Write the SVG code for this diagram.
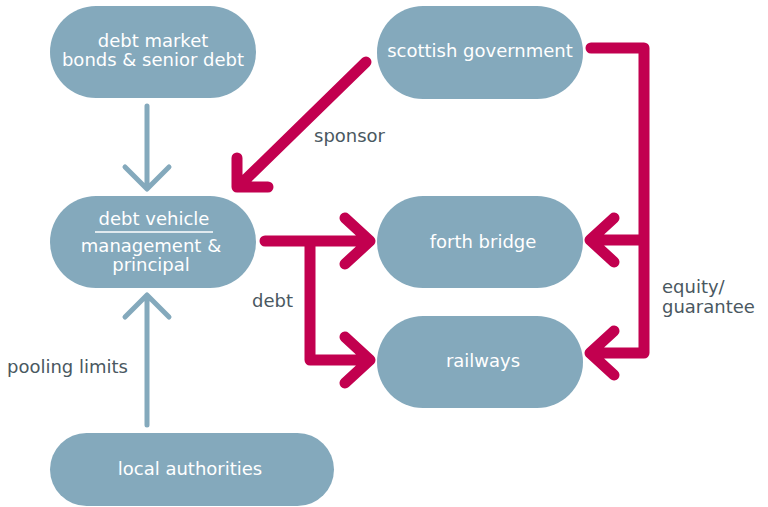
<svg xmlns="http://www.w3.org/2000/svg" width="768" height="507" viewBox="0 0 768 507">
  <style>
    .node { fill: #84a9bc; }
    .ntext { fill: #ffffff; font-family: "DejaVu Sans", "Liberation Sans", sans-serif; font-size: 18px; text-anchor: middle; }
    .label { fill: #4a5861; font-family: "DejaVu Sans", "Liberation Sans", sans-serif; font-size: 18px; }
    .blue { stroke: #84a9bc; stroke-width: 5; fill: none; stroke-linecap: round; stroke-linejoin: round; }
    .red { stroke: #c2004f; stroke-width: 11; fill: none; stroke-linecap: round; stroke-linejoin: round; }
  </style>
  <rect width="768" height="507" fill="#ffffff"/>

  <g id="connectors">
    <!-- debt market -> debt vehicle -->
    <path class="blue" d="M147 106 V188 M125 167 L147 189 L169 167"/>
    <!-- local authorities -> debt vehicle -->
    <path class="blue" d="M147 425 V297 M125 317 L147 295 L169 317"/>
    <!-- sponsor -->
    <path class="red" d="M366 62 L240 185 M237 158 V187 H268"/>
    <!-- equity / guarantee -->
    <path class="red" d="M591 48 H644 V353 H592 M644 240 H592 M614 218 L590 240 L614 262 M614 331 L590 353 L614 375"/>
    <!-- debt -->
    <path class="red" d="M265 241 H368 M310 241 V360 H368 M345 218 L370 241 L345 264 M345 337 L370 360 L345 383"/>
  </g>

  <g id="debt-market">
    <rect class="node" x="50" y="6" width="206" height="92" rx="46"/>
    <text class="ntext" x="153" y="47">debt market</text>
    <text class="ntext" x="153" y="66">bonds &amp; senior debt</text>
  </g>

  <g id="scottish-government">
    <rect class="node" x="377" y="6" width="206" height="93" rx="46"/>
    <text class="ntext" x="480" y="57">scottish government</text>
  </g>

  <g id="debt-vehicle">
    <rect class="node" x="50" y="196" width="206" height="92" rx="46"/>
    <text class="ntext" x="154" y="225">debt vehicle</text>
    <line x1="95" y1="232" x2="213" y2="232" stroke="#ffffff" stroke-width="1.5"/>
    <text class="ntext" x="151" y="252">management &amp;</text>
    <text class="ntext" x="151" y="271">principal</text>
  </g>

  <g id="forth-bridge">
    <rect class="node" x="377" y="196" width="206" height="92" rx="46"/>
    <text class="ntext" x="483" y="248">forth bridge</text>
  </g>

  <g id="railways">
    <rect class="node" x="377" y="316" width="206" height="92" rx="46"/>
    <text class="ntext" x="483" y="367">railways</text>
  </g>

  <g id="local-authorities">
    <rect class="node" x="50" y="433" width="284" height="73" rx="36.5"/>
    <text class="ntext" x="190" y="475">local authorities</text>
  </g>

  <g id="labels">
    <text class="label" x="314" y="142">sponsor</text>
    <text class="label" x="252" y="307">debt</text>
    <text class="label" x="662" y="293">equity/</text>
    <text class="label" x="662" y="313">guarantee</text>
    <text class="label" x="7" y="373">pooling limits</text>
  </g>
</svg>
